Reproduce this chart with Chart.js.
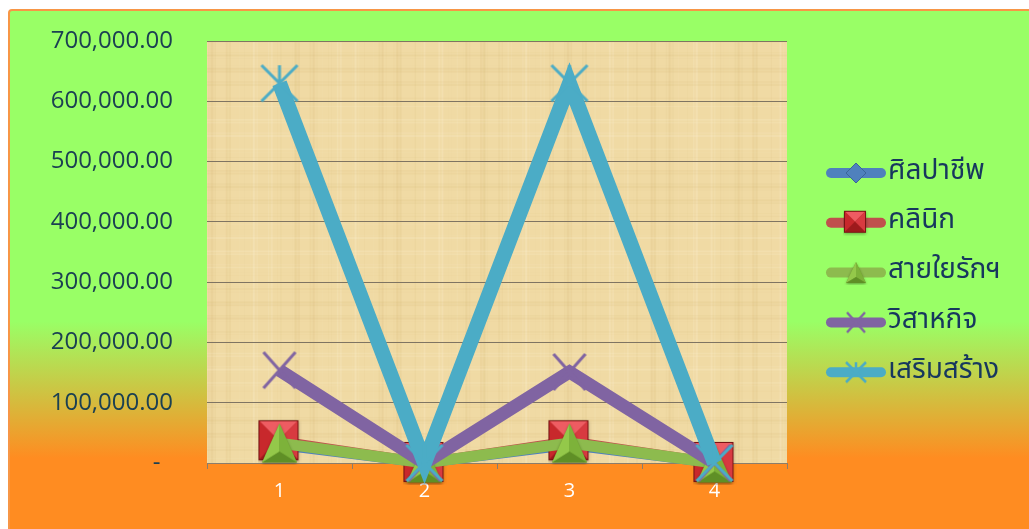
<!DOCTYPE html>
<html><head><meta charset="utf-8">
<script src="https://cdn.jsdelivr.net/npm/chart.js@4.4.0/dist/chart.umd.min.js"></script>
<style>
html,body{margin:0;padding:0;background:#fff;width:1029px;height:529px;overflow:hidden}
#frame{position:absolute;left:8px;top:9px;width:1040px;height:530px;box-sizing:border-box;border:2px solid #F79646;border-radius:4px;background:linear-gradient(to bottom,#99FF66 0%,#99FF66 59%,#FF8C21 85%,#FF8C21 100%)}
#wrap{position:absolute;left:0;top:0;width:1029px;height:529px}
</style></head><body>
<div id="frame"></div>
<div id="wrap"><canvas id="c"></canvas></div>
<script>
// ---- data ----
const categories = ['1', '2', '3', '4'];
const seriesNames = ['ศิลปาชีพ', 'คลินิก', 'สายใยรักฯ', 'วิสาหกิจ', 'เสริมสร้าง'];
const silapacheep = [30000, 0, 30000, 0];
const clinic = [36000, 0, 36000, 0];
const saiyairak = [33000, 0, 33000, 0];
const visahakit = [154000, 0, 151000, 0];
const sermsang = [630000, 0, 630000, 0];
const yTickValues = [0, 100000, 200000, 300000, 400000, 500000, 600000, 700000];

// ---- marker images ----
function mk(w, h, draw) { const c = document.createElement('canvas'); c.width = w; c.height = h; draw(c.getContext('2d'), w, h); return c; }
function squareMarker(s) {
  return mk(s + 4, s + 4, (g) => {
    const o = 1, cx = o + s / 2, cy = o + s / 2;
    g.shadowColor = 'rgba(0,0,0,0.35)'; g.shadowBlur = 3; g.shadowOffsetY = 1;
    g.fillStyle = '#A01C1C'; g.fillRect(o, o, s, s);
    g.shadowColor = 'transparent';
    const tri = (pts, col) => { g.beginPath(); g.moveTo(pts[0], pts[1]); g.lineTo(pts[2], pts[3]); g.lineTo(pts[4], pts[5]); g.closePath(); g.fillStyle = col; g.fill(); };
    tri([o, o, o + s, o, cx, cy], '#EE5C62');
    tri([o, o, cx, cy, o, o + s], '#C8282C');
    tri([o + s, o, o + s, o + s, cx, cy], '#D83A40');
    tri([o, o + s, o + s, o + s, cx, cy], '#9E1A1C');
    g.strokeStyle = '#7A1414'; g.lineWidth = 1; g.strokeRect(o + 0.5, o + 0.5, s - 1, s - 1);
  });
}
function triangleMarker(w, h) {
  return mk(w + 4, h + 4, (g) => {
    const o = 2, ax = o + w / 2, ay = o, lx = o, ly = o + h, rx = o + w, ry = o + h, cx = o + w / 2, cy = o + h * 0.72;
    g.shadowColor = 'rgba(0,0,0,0.35)'; g.shadowBlur = 3; g.shadowOffsetY = 1;
    g.beginPath(); g.moveTo(ax, ay); g.lineTo(rx, ry); g.lineTo(lx, ly); g.closePath(); g.fillStyle = '#6E9E2E'; g.fill();
    g.shadowColor = 'transparent';
    const tri = (pts, col) => { g.beginPath(); g.moveTo(pts[0], pts[1]); g.lineTo(pts[2], pts[3]); g.lineTo(pts[4], pts[5]); g.closePath(); g.fillStyle = col; g.fill(); };
    tri([ax, ay, lx, ly, cx, cy], '#94C84A');
    tri([ax, ay, rx, ry, cx, cy], '#7DB23A');
    tri([lx, ly, rx, ry, cx, cy], '#5F8F26');
  });
}
function diamondMarker(s) {
  return mk(s + 4, s + 4, (g) => {
    const c = s / 2 + 2;
    g.beginPath(); g.moveTo(c, 2); g.lineTo(s + 2, c); g.lineTo(c, s + 2); g.lineTo(2, c); g.closePath();
    g.fillStyle = '#4F81BD'; g.fill(); g.strokeStyle = '#3A6599'; g.lineWidth = 1; g.stroke();
  });
}
function xMarker(w, h, col, lw) {
  return mk(w + 6, h + 6, (g) => {
    g.strokeStyle = col; g.lineWidth = lw; g.lineCap = 'butt';
    g.beginPath(); g.moveTo(3, 3); g.lineTo(w + 3, h + 3); g.moveTo(w + 3, 3); g.lineTo(3, h + 3); g.stroke();
  });
}
function starMarker(s, col, lw) {
  return mk(s + 6, s + 6, (g) => {
    g.strokeStyle = col; g.lineWidth = lw;
    const c = s / 2 + 3;
    g.beginPath(); g.moveTo(3, 3); g.lineTo(s + 3, s + 3); g.moveTo(s + 3, 3); g.lineTo(3, s + 3);
    g.moveTo(c, 3); g.lineTo(c, c); g.stroke();
  });
}

const colors = ['#4F81BD', '#C0504D', '#8DBB4E', '#8064A2', '#4BACC6'];
const lineWidths = [10, 10, 11, 13, 15];
const markers = [diamondMarker(24), squareMarker(40), triangleMarker(35, 39), xMarker(32, 36, '#8064A2', 3), starMarker(36, '#4BACC6', 3)];
const legendMarkers = [diamondMarker(20), squareMarker(22), triangleMarker(20, 21), xMarker(18, 20, '#8064A2', 2.5), starMarker(20, '#4BACC6', 2.5)];
const seriesValues = [silapacheep, clinic, saiyairak, visahakit, sermsang];

function papyrus(w, h) {
  return mk(w, h, (g) => {
    g.fillStyle = '#F0DAA4'; g.fillRect(0, 0, w, h);
    for (let i = 0; i < w; i++) {
      const v = Math.sin(i * 0.37) * 0.45 + Math.sin(i * 0.071 + 1) * 0.35 + Math.sin(i * 1.73) * 0.2;
      if (v > 0.3) { g.fillStyle = 'rgba(190,150,70,' + ((v - 0.3) * 0.18) + ')'; g.fillRect(i, 0, 1, h); }
      else if (v < -0.45) { g.fillStyle = 'rgba(255,246,220,' + ((-v - 0.45) * 0.45) + ')'; g.fillRect(i, 0, 1, h); }
    }
    for (let j = 0; j < h; j++) {
      const v = Math.sin(j * 0.43 + 2) * 0.45 + Math.sin(j * 0.053) * 0.35 + Math.sin(j * 1.91) * 0.2;
      if (v > 0.35) { g.fillStyle = 'rgba(190,150,70,' + ((v - 0.35) * 0.16) + ')'; g.fillRect(0, j, w, 1); }
      else if (v < -0.45) { g.fillStyle = 'rgba(255,246,220,' + ((-v - 0.45) * 0.4) + ')'; g.fillRect(0, j, w, 1); }
    }
  });
}

const bgPlugin = {
  id: 'bg',
  beforeDraw(chart) {
    const a = chart.chartArea, g = chart.ctx;
    if (!chart.$pap) chart.$pap = papyrus(Math.ceil(a.right - a.left), Math.ceil(a.bottom - a.top));
    g.drawImage(chart.$pap, a.left, a.top);
  }
};
const legendPlugin = {
  id: 'customLegend',
  afterDraw(chart) {
    const g = chart.ctx;
    g.save();
    chart.data.datasets.forEach((ds, i) => {
      const y = 173 + i * 49.8, x0 = 826, x1 = 886;
      g.strokeStyle = ds.borderColor; g.lineWidth = 10; g.lineCap = 'round';
      g.beginPath(); g.moveTo(x0 + 5, y); g.lineTo(x1 - 5, y); g.stroke();
      const m = legendMarkers[i];
      g.drawImage(m, (x0 + x1) / 2 - m.width / 2, y - m.height / 2);
      g.fillStyle = '#17375E'; g.font = '28px "Noto Sans Thai", "Noto Sans", "DejaVu Sans", sans-serif';
      g.textBaseline = 'middle'; g.textAlign = 'left';
      g.fillText(ds.label, 888, y);
    });
    g.restore();
  }
};

const datasets = seriesValues.map((vals, i) => ({
  label: seriesNames[i],
  data: vals,
  borderColor: colors[i],
  backgroundColor: colors[i],
  borderWidth: lineWidths[i],
  pointStyle: markers[i],
  pointRadius: 20,
  pointHoverRadius: 20,
  tension: 0,
  clip: false,
  order: 5 - i
}));

new Chart(document.getElementById('c'), {
  type: 'line',
  data: { labels: categories, datasets },
  plugins: [bgPlugin, legendPlugin],
  options: {
    responsive: true,
    maintainAspectRatio: false,
    animation: false,
    layout: { padding: { left: 0, right: 242, top: 41, bottom: 26 } },
    plugins: { legend: { display: false }, tooltip: { enabled: false } },
    scales: {
      x: {
        offset: true,
        grid: { display: true, drawOnChartArea: false, drawTicks: true, tickLength: 6, color: '#8B7D6B', offset: true },
        border: { display: true, color: '#8B7D6B', width: 1 },
        ticks: { color: '#FFFFFF', font: { family: '"Open Sans", sans-serif', size: 20 }, padding: 10 },
        afterFit(s) { s.height = 40; s.paddingLeft = 0; s.paddingRight = 0; }
      },
      y: {
        min: 0, max: 700000,
        afterBuildTicks(s) { s.ticks = yTickValues.map(v => ({ value: v })); },
        grid: { color: '#7F7462', lineWidth: 1, drawTicks: false },
        border: { display: false },
        ticks: {
          color: '#1B4052', padding: 34,
          font: { family: '"Open Sans", sans-serif', size: 24 },
          callback: (v) => v === 0 ? '-  ' : Number(v).toLocaleString('en-US', { minimumFractionDigits: 2, maximumFractionDigits: 2 })
        },
        afterFit(s) { s.width = 207; s.paddingTop = 0; s.paddingBottom = 0; }
      }
    }
  }
});
</script>
</body></html>
